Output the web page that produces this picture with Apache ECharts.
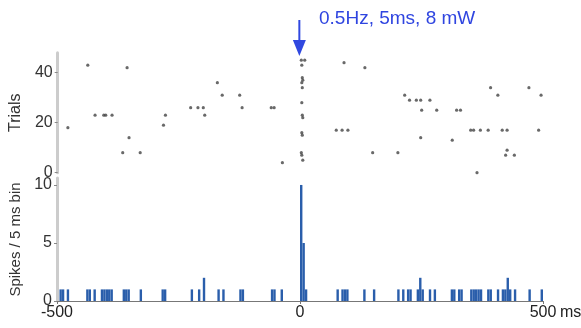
<!DOCTYPE html>
<html>
<head>
<meta charset="utf-8">
<script src="https://cdn.jsdelivr.net/npm/echarts@6/dist/echarts.min.js"></script>
<style>
html,body{margin:0;padding:0;background:#fff;}
#c{width:581px;height:328px;}
</style>
</head>
<body>
<div id="c"></div>
<script>
// Raster: spike time (ms) and trial number
const rasterTimes = [
  -479,-438,-423,-405,-401,-388,-357,-366,-353,-330,-282,-278,-226,-211,-200,-197,-171,-161,-125,-120,-60,-54,-37,
  2,9,3,4,5,3,4,3,4,5,3,4,2,3,5,
  90,133,215,225,239,248,267,250,281,322,330,74,86,98,248,313,149,201,392,407,471,496,351,357,371,387,416,426,491,426,423,441,364
];
const rasterTrials = [
  18,43,23,23,23,23,42,8,14,8,19,23,26,26,26,23,36,31,31,26,26,26,4,
  45,45,43,38,37,36,34,28,23,22,16,15,8,7,5,
  44,42,31,29,29,29,29,25,25,25,25,17,17,17,14,13,8,8,34,31,34,31,17,17,17,17,17,17,17,9,7,7,0
];
// Histogram: bin start (ms) and spike count per 5 ms bin
const binStarts = [
  -495,-490,-480,-440,-435,-425,-410,-405,-400,-395,-390,-365,-360,-355,-330,-285,-280,-225,-210,-200,-170,-160,-125,-120,-60,-55,-40,
  0,5,10,75,85,90,95,130,150,200,210,220,225,240,245,250,265,275,310,315,325,330,350,355,360,365,370,385,390,405,415,420,425,430,440,470,495
];
const binCounts = [
  1,1,1,1,1,1,1,1,1,1,1,1,1,1,1,1,1,1,1,2,1,1,1,1,1,1,1,
  10,5,1,1,1,1,1,1,1,1,1,1,1,1,2,1,1,1,1,1,1,1,1,1,1,1,1,1,1,1,1,1,2,1,1,1,1
];
const xTicks = [-500, 0, 500];
const rasterTicks = [0, 20, 40];
const histTicks = [0, 5, 10];
const titleText = '0.5Hz, 5ms, 8 mW';

const FONT = '"Liberation Sans", Arial, sans-serif';
const chart = echarts.init(document.getElementById('c'), null, {renderer: 'canvas'});

const rasterData = rasterTimes.map((t, i) => [t, rasterTrials[i]]);
const histData = binStarts.map((b, i) => [b + 2.5, binCounts[i]]);

const yAxisCommon = {
  type: 'value',
  axisLine: {show: true, onZero: false, lineStyle: {color: '#cccccc', width: 3}},
  splitLine: {show: false},
  axisTick: {show: true, length: 3, lineStyle: {color: '#888'}},
  axisLabel: {fontFamily: FONT, fontSize: 16, color: '#333', margin: 5},
  nameLocation: 'middle',
  nameRotate: 90,
  nameTextStyle: {fontFamily: FONT, fontSize: 16, color: '#333'}
};

chart.setOption({
  animation: false,
  title: {
    text: titleText, left: 314, top: 4,
    textStyle: {fontFamily: FONT, fontSize: 19, fontWeight: 'normal', color: '#2f45e0'}
  },
  grid: [
    {left: 57, top: 52.7, width: 486, height: 120},
    {left: 57, top: 178, width: 486, height: 123}
  ],
  xAxis: [
    {gridIndex: 0, type: 'value', min: -500, max: 500, show: false},
    {gridIndex: 1, type: 'value', min: -500, max: 500, interval: 500,
     axisLine: {show: true, onZero: false, lineStyle: {color: '#777', width: 1}},
     axisTick: {show: true, length: 3, lineStyle: {color: '#777'}},
     splitLine: {show: false},
     axisLabel: {fontFamily: FONT, fontSize: 16, color: '#222', margin: 4,
       customValues: xTicks}
    }
  ],
  yAxis: [
    Object.assign({}, yAxisCommon, {gridIndex: 0, min: 0, max: 48, name: 'Trials', nameGap: 30,
      axisTick: Object.assign({}, yAxisCommon.axisTick, {customValues: rasterTicks}),
      axisLabel: Object.assign({}, yAxisCommon.axisLabel, {customValues: rasterTicks})}),
    Object.assign({}, yAxisCommon, {gridIndex: 1, min: 0, max: 10.6, name: 'Spikes / 5 ms bin', nameGap: 29,
      nameTextStyle: {fontFamily: FONT, fontSize: 15, color: '#333'},
      axisTick: Object.assign({}, yAxisCommon.axisTick, {customValues: histTicks}),
      axisLabel: Object.assign({}, yAxisCommon.axisLabel, {customValues: histTicks})})
  ],
  series: [
    {type: 'scatter', xAxisIndex: 0, yAxisIndex: 0, data: rasterData,
     symbol: 'circle', symbolSize: 3.2, itemStyle: {color: '#444'}, clip: false},
    {type: 'bar', xAxisIndex: 1, yAxisIndex: 1, data: histData,
     barWidth: 2.4, itemStyle: {color: '#2a5eab'}}
  ]
});

// Stimulus arrow at t = 0 above the raster
const top0 = chart.convertToPixel({gridIndex: 0}, [0, 48]);
const end500 = chart.convertToPixel({gridIndex: 1}, [500, 0]);
const ax = top0[0] - 1;
chart.setOption({
  graphic: [
    {type: 'line', shape: {x1: ax, y1: 20, x2: ax, y2: 44}, style: {stroke: '#3048e0', lineWidth: 2}},
    {type: 'polygon', shape: {points: [[ax - 6.5, 40], [ax + 6.5, 40], [ax, 56]]}, style: {fill: '#3048e0'}},
    {type: 'text', x: end500[0] + 17, y: end500[1] + 4,
     style: {text: 'ms', font: '16px ' + FONT, fill: '#222', textAlign: 'left', textVerticalAlign: 'top'}}
  ]
});
</script>
</body>
</html>
